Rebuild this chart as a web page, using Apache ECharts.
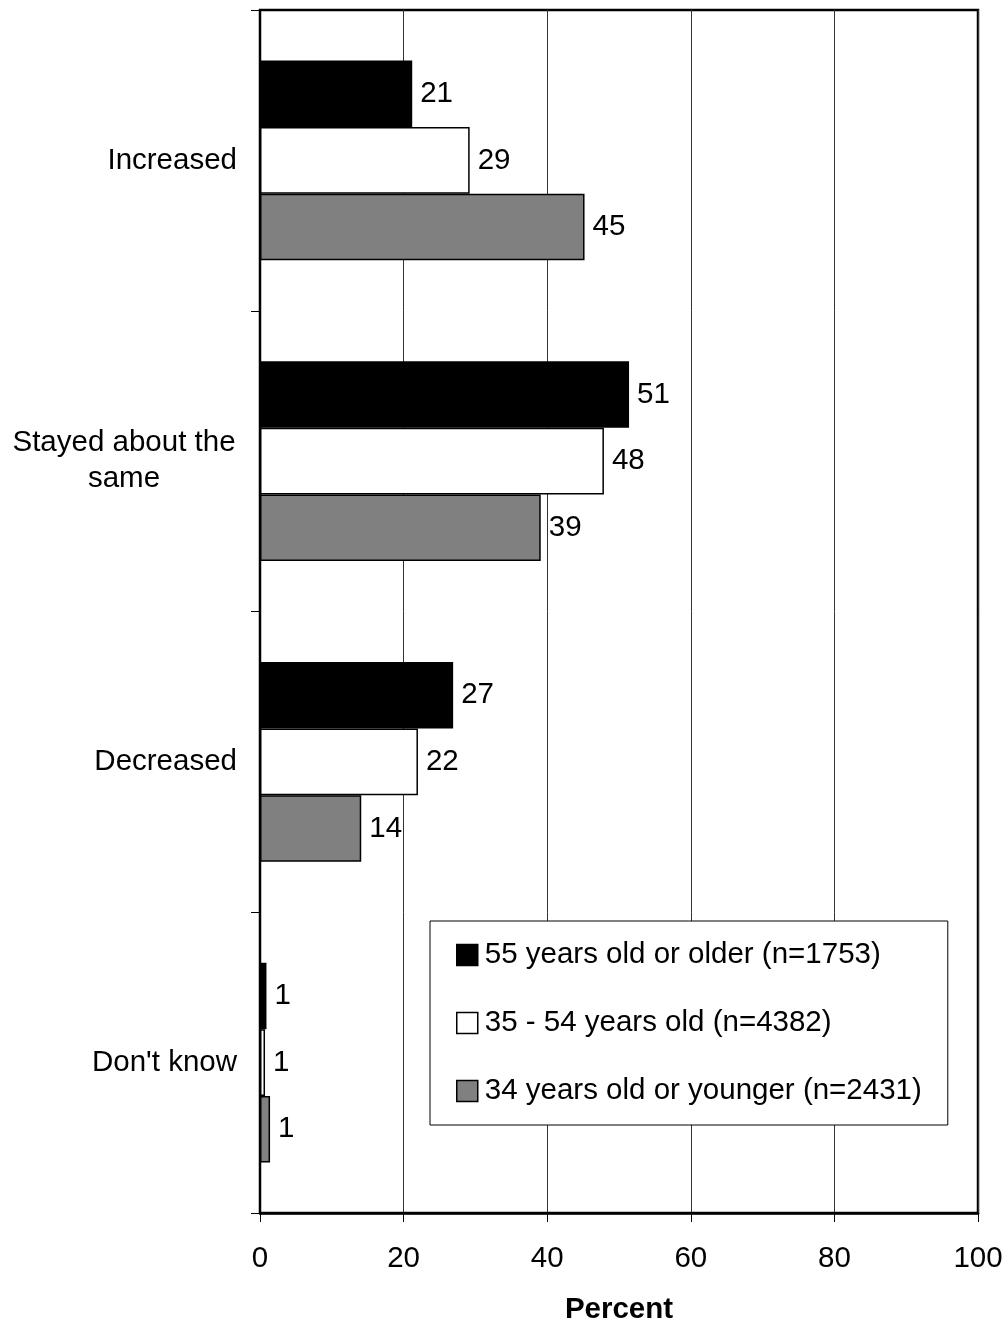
<!DOCTYPE html>
<html>
<head>
<meta charset="utf-8">
<script src="https://cdn.jsdelivr.net/npm/echarts@6/dist/echarts.min.js"></script>
<style>html,body{margin:0;padding:0;background:#fff;overflow:hidden}#c{width:1008px;height:1330px}</style>
</head>
<body>
<div id="c"></div>
<script>
var categories = ['Increased', 'Stayed about the same', 'Decreased', "Don't know"];
var seriesNames = ['55 years old or older (n=1753)', '35 - 54 years old (n=4382)', '34 years old or younger (n=2431)'];
var older = [21.2, 51.4, 26.9, 0.9];
var middle = [29.2, 47.9, 22.0, 0.7];
var younger = [45.2, 39.1, 14.1, 1.4];
var olderLabels = [21, 51, 27, 1];
var middleLabels = [29, 48, 22, 1];
var youngerLabels = [45, 39, 14, 1];
var xTicks = [0, 20, 40, 60, 80, 100];

var FONT = 'Liberation Sans, Arial, sans-serif';
var FS = 29.5;
var colors = ['#000000', '#ffffff', '#808080'];
var values = [older, middle, younger];
var labels = [olderLabels, middleLabels, youngerLabels];

var chart = echarts.init(document.getElementById('c'), null, {renderer: 'canvas', height: 1330, width: 1008});
var series = seriesNames.map(function (n, i) {
  return {
    name: n,
    type: 'bar',
    data: values[i],
    barGap: '0%',
    barCategoryGap: '33.5%',
    itemStyle: {color: colors[i], borderColor: '#000', borderWidth: 1.5},
    label: {
      show: true, position: 'right', distance: 8,
      color: '#000', fontSize: FS, fontFamily: FONT,
      formatter: function (p) { return String(labels[i][p.dataIndex]); }
    },
    emphasis: {disabled: true}
  };
});

chart.setOption({
  animation: false,
  textStyle: {fontFamily: FONT},
  grid: {left: 260, top: 10, right: 30, bottom: 109, show: true, borderColor: '#000', borderWidth: 2.5, backgroundColor: 'transparent'},
  legend: {
    orient: 'vertical',
    left: 430, top: 921,
    padding: [19, 26, 19, 26],
    backgroundColor: '#fff',
    borderColor: '#000', borderWidth: 1,
    borderRadius: 0,
    itemWidth: 21, itemHeight: 21, itemGap: 38,
    icon: 'rect',
    textStyle: {fontSize: FS, color: '#000', fontFamily: FONT, padding: [0, 0, 0, 2], lineHeight: 29},
    data: seriesNames.map(function (n, i) {
      return {name: n, itemStyle: {color: colors[i], borderColor: '#000', borderWidth: 1.5}};
    })
  },
  xAxis: {
    type: 'value', min: xTicks[0], max: xTicks[xTicks.length - 1], interval: 20,
    name: 'Percent', nameLocation: 'middle', nameGap: 82,
    nameTextStyle: {fontSize: FS, fontWeight: 'bold', color: '#000', fontFamily: FONT},
    axisLine: {show: true, lineStyle: {color: '#000', width: 2.5}},
    axisTick: {show: true, length: 9, lineStyle: {color: '#000', width: 1}},
    axisLabel: {fontSize: FS, color: '#000', margin: 31, fontFamily: FONT},
    splitLine: {show: true, lineStyle: {color: '#333', width: 1}}
  },
  yAxis: {
    type: 'category', data: categories, inverse: true,
    axisLine: {show: true, lineStyle: {color: '#000', width: 2}},
    axisTick: {show: true, length: 9, lineStyle: {color: '#000', width: 1}},
    axisLabel: {
      fontSize: FS, color: '#000', margin: 23, fontFamily: FONT, lineHeight: 36,
      formatter: function (v) {
        if (v === 'Stayed about the same') return '{c|Stayed about the}\n{c|same}';
        return v;
      },
      rich: {c: {width: 226, align: 'center', fontSize: FS, lineHeight: 36, fontFamily: FONT, color: '#000'}}
    },
    splitLine: {show: false}
  },
  series: series
});
</script>
</body>
</html>
